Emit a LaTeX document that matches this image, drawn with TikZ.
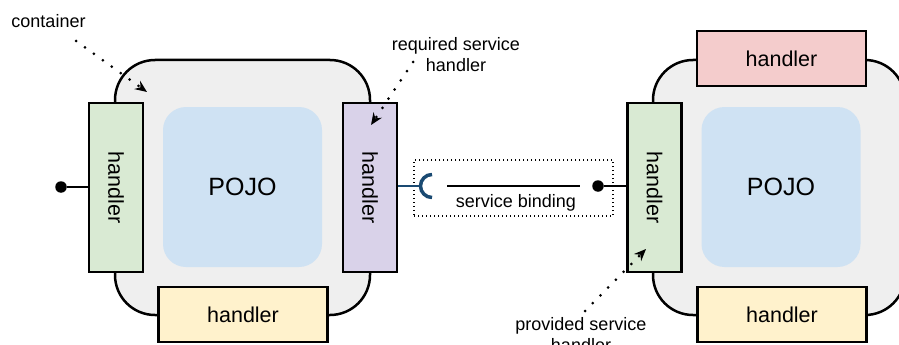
\documentclass[tikz,border=0pt]{standalone}
\usepackage{fontspec}
\setmainfont{Liberation Sans}
\usetikzlibrary{arrows.meta}
\definecolor{cgray}{HTML}{EFEFEF}
\definecolor{cblue}{HTML}{CFE2F3}
\definecolor{cgreen}{HTML}{D9EAD3}
\definecolor{cpurple}{HTML}{D9D2E9}
\definecolor{cyellow}{HTML}{FFF2CC}
\definecolor{cred}{HTML}{F4CCCC}
\definecolor{csock}{HTML}{1A4A72}
\begin{document}
\begin{tikzpicture}[x=1pt,y=-1pt,
  container/.style={draw=black, line width=2.5pt, fill=cgray, rounded corners=40pt, inner sep=0pt, minimum height=255pt},
  pojo/.style={fill=cblue, rounded corners=23pt, minimum width=159pt, minimum height=160pt, inner sep=0pt, font=\fontsize{25}{30}\selectfont},
  handlerbox/.style={draw=black, line width=2.5pt, inner sep=0pt, font=\fontsize{21.5}{26}\selectfont},
  hbox/.style={handlerbox, minimum width=169pt, minimum height=55pt},
  vbox/.style={handlerbox, minimum width=54pt, minimum height=169pt},
  lbl/.style={font=\fontsize{18}{21}\selectfont, align=center, inner sep=0pt},
  pointer/.style={line width=3pt, dash pattern=on 0pt off 11pt, line cap=round, -{Stealth[length=12pt,width=10pt,inset=4pt]}},
  pin/.style={circle, fill=black, inner sep=0pt, minimum size=11.5pt},
  wire/.style={line width=2.5pt}
]
\useasboundingbox (0,0) rectangle (899,345);

% left container
\node[container, minimum width=255pt] (c1) at (242.5,187.5) {};
\node[pojo] (p1) at (242.5,187) {POJO};
\node[vbox, fill=cgreen] (g1) at (116,187.5) {\rotatebox{-90}{handler}};
\node[vbox, fill=cpurple] (v1) at (370,187.5) {\rotatebox{-90}{handler}};
\node[hbox, fill=cyellow] (y1) at (243,314.5) {handler};

% right container
\node[container, minimum width=252pt] (c2) at (779,187.5) {};
\node[pojo] (p2) at (781,187) {POJO};
\node[vbox, fill=cgreen] (g2) at (654.5,187.5) {\rotatebox{-90}{handler}};
\node[hbox, fill=cred] (r2) at (781.5,58.5) {handler};
\node[hbox, fill=cyellow] (y2) at (782,314.5) {handler};

% left provided pin
\node[pin] (d1) at (61,187) {};
\draw[wire] (d1) -- (d1 -| g1.west);

% service binding box
\node[draw, line width=1.2pt, dash pattern=on 1.2pt off 2.8pt, minimum width=199pt, minimum height=56pt, inner sep=0pt] (sb) at (513.5,188) {};
\coordinate (bl) at (447,186);
\coordinate (br) at (580,186);
\draw[line width=1.5pt] (bl) -- (br);
\node[lbl, anchor=base] (sbt) at (516,207.5) {service binding};

% socket
\coordinate (sock) at (421,186);
\draw[csock, line width=2.2pt] (sock -| v1.east) -- (sock);
\draw[csock, line width=3.5pt] (432,174.5) arc[start angle=90, end angle=270, radius=11.5pt];

% right pin
\node[pin] (d2) at (598,186) {};
\draw[wire] (d2) -- (d2 -| g2.west);

% labels
\node[lbl, anchor=base] (lc) at (48.5,28) {container};
\node[lbl, anchor=north] (lr) at (456,37) {required service\\handler};
\node[lbl, anchor=north] (lp) at (581,317) {provided service\\handler};

\coordinate (a1s) at (76,41);
\coordinate (a1e) at (147,92);
\coordinate (a2s) at (413,62);
\coordinate (a2e) at (371,125);
\coordinate (a3s) at (585,311);
\coordinate (a3e) at (646,249);
\draw[pointer] (a1s) -- (a1e);
\draw[pointer] (a2s) -- (a2e);
\draw[pointer] (a3s) -- (a3e);
\end{tikzpicture}
\end{document}
